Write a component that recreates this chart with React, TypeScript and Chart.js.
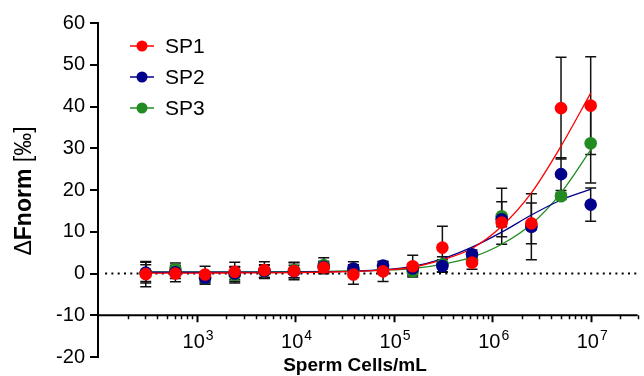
import React, { useEffect, useRef } from "react";
import { Chart, registerables } from "chart.js";

Chart.register(...registerables);

// ---- data ----
const concentrations = [305.2, 610.4, 1220.7, 2441.4, 4882.8, 9765.6, 19531, 39063, 78125, 156250, 312500, 625000, 1250000, 2500000, 5000000, 10000000];
const seriesNames = ["SP1", "SP2", "SP3"];
const seriesColors = ["#ff0000", "#00008b", "#228b22"];

const sp1Values = [-0.15, 0.0, -0.25, 0.4, 0.8, 0.6, 1.45, -0.25, 0.5, 1.75, 6.2, 2.6, 12.2, 12.0, 39.6, 40.2];
const sp1Errors = [3.0, 2.0, 2.0, 2.3, 2.0, 2.1, 1.5, 2.3, 2.4, 2.6, 5.1, 1.6, 1.0, 4.9, 12.2, 11.7];
const sp2Values = [0.2, 0.3, -1.0, 0.0, 0.6, 0.5, 1.6, 1.2, 1.9, 1.2, 1.8, 4.6, 13.0, 11.2, 23.8, 16.5];
const sp2Errors = [2.5, 1.5, 1.0, 1.5, 1.5, 1.5, 1.2, 1.6, 1.0, 1.2, 1.5, 1.0, 4.2, 7.9, 3.9, 4.0];
const sp3Values = [0.1, 1.0, -1.1, -0.3, 0.5, 0.8, 2.0, 0.6, 1.0, 0.55, 2.2, 3.2, 13.7, 11.4, 18.5, 31.2];
const sp3Errors = [2.0, 1.5, 1.5, 2.0, 1.5, 1.8, 1.75, 1.5, 1.0, 1.0, 1.8, 0.5, 6.7, 1.0, 0.8, 9.5];

const sp1Fit = [0.1, 0.1, 0.1, 0.15, 0.15, 0.2, 0.3, 0.5, 0.8, 1.5, 3.3, 6.0, 11.3, 19.3, 30.5, 43.2];
const sp2Fit = [0.3, 0.3, 0.3, 0.3, 0.3, 0.35, 0.4, 0.55, 0.9, 1.7, 3.5, 6.3, 9.9, 14.0, 17.6, 20.2];
const sp3Fit = [0.4, 0.4, 0.4, 0.4, 0.4, 0.45, 0.5, 0.6, 0.8, 1.2, 2.2, 3.9, 7.0, 11.8, 19.3, 29.6];

const xMin = 100;
const xMax = 3e7;
const xTickExponents = [3, 4, 5, 6, 7];
const xMinorMultipliers = [1, 2, 3, 4, 5, 6, 7, 8, 9];
const yMin = -20;
const yMax = 60;
const yStep = 10;
const xAxisAt = -10;
const zeroLineX = [118, 3e7];
const zeroLineY = [0, 0];

const xTitle = "Sperm Cells/mL";
const yTitleDelta = "\u0394";
const yTitleBold = "Fnorm";
const yTitleRegular = " [\u2030]";

const FONT = "'Liberation Sans', Arial, Helvetica, sans-serif";

const values = [sp1Values, sp2Values, sp3Values];
const errors = [sp1Errors, sp2Errors, sp3Errors];
const fits = [sp1Fit, sp2Fit, sp3Fit];

const errorBarPlugin = {
  id: "errorBars",
  beforeDatasetsDraw(chart: any) {
    const { ctx } = chart;
    const ys = chart.scales.y;
    ctx.save();
    ctx.strokeStyle = "#111";
    ctx.lineWidth = 1.5;
    chart.data.datasets.forEach((ds: any, di: number) => {
      if (!ds.errors) return;
      const meta = chart.getDatasetMeta(di);
      meta.data.forEach((pt: any, i: number) => {
        const v = ds.data[i].y;
        const e = ds.errors[i];
        const x = pt.x;
        const yt = ys.getPixelForValue(v + e);
        const yb = ys.getPixelForValue(v - e);
        ctx.beginPath();
        ctx.moveTo(x, yt);
        ctx.lineTo(x, yb);
        ctx.moveTo(x - 5.5, yt);
        ctx.lineTo(x + 5.5, yt);
        ctx.moveTo(x - 5.5, yb);
        ctx.lineTo(x + 5.5, yb);
        ctx.stroke();
      });
    });
    ctx.restore();
  },
};

const axesPlugin = {
  id: "customAxes",
  afterDraw(chart: any) {
    const { ctx, chartArea } = chart;
    const xs = chart.scales.x;
    const ys = chart.scales.y;
    const y0 = ys.getPixelForValue(xAxisAt);
    ctx.save();
    // x axis line
    ctx.strokeStyle = "#000";
    ctx.lineWidth = 2;
    ctx.beginPath();
    ctx.moveTo(chartArea.left - 1, y0);
    ctx.lineTo(chartArea.right, y0);
    ctx.stroke();
    // ticks
    for (let e = 2; e <= 7; e++) {
      for (const m of xMinorMultipliers) {
        const v = m * Math.pow(10, e);
        if (v <= xMin || v > xMax) continue;
        const x = Math.round(xs.getPixelForValue(v)) + 0.5;
        const len = m === 1 ? 7 : 4;
        ctx.lineWidth = m === 1 ? 2 : 1.5;
        ctx.beginPath();
        ctx.moveTo(x, y0);
        ctx.lineTo(x, y0 + len);
        ctx.stroke();
      }
    }
    // labels
    ctx.fillStyle = "#000";
    ctx.textBaseline = "alphabetic";
    for (const e of xTickExponents) {
      const x = xs.getPixelForValue(Math.pow(10, e));
      const base = "10";
      const sup = String(e);
      ctx.font = `20px ${FONT}`;
      const wb = ctx.measureText(base).width;
      ctx.font = `14px ${FONT}`;
      const ws = ctx.measureText(sup).width;
      const start = x - (wb + ws) / 2 + 1;
      ctx.font = `20px ${FONT}`;
      ctx.textAlign = "left";
      ctx.fillText(base, start, y0 + 33);
      ctx.font = `14px ${FONT}`;
      ctx.fillText(sup, start + wb + 1, y0 + 25);
    }
    // x title
    ctx.font = `bold 19px ${FONT}`;
    ctx.textAlign = "center";
    ctx.textBaseline = "middle";
    ctx.fillText(xTitle, 355, 366);
    // y title
    ctx.translate(25, 191);
    ctx.rotate(-Math.PI / 2);
    const reg = `23px ${FONT}`;
    const bold = `bold 23px ${FONT}`;
    ctx.font = reg;
    const w0 = ctx.measureText(yTitleDelta).width;
    const w2 = ctx.measureText(yTitleRegular).width;
    ctx.font = bold;
    const w1 = ctx.measureText(yTitleBold).width;
    const sx = -(w0 + w1 + w2) / 2;
    ctx.textAlign = "left";
    ctx.font = reg;
    ctx.fillText(yTitleDelta, sx, 0);
    ctx.font = bold;
    ctx.fillText(yTitleBold, sx + w0, 0);
    ctx.font = reg;
    ctx.fillText(yTitleRegular, sx + w0 + w1, 0);
    ctx.restore();

    // legend
    ctx.save();
    const rows = [46, 77, 108];
    seriesNames.forEach((name, i) => {
      const ry = rows[i];
      ctx.strokeStyle = seriesColors[i];
      ctx.lineWidth = 1.5;
      ctx.beginPath();
      ctx.moveTo(130, ry);
      ctx.lineTo(154, ry);
      ctx.stroke();
      ctx.fillStyle = seriesColors[i];
      ctx.beginPath();
      ctx.arc(142, ry, 5.5, 0, Math.PI * 2);
      ctx.fill();
      ctx.fillStyle = "#000";
      ctx.font = `21px ${FONT}`;
      ctx.textAlign = "left";
      ctx.textBaseline = "middle";
      ctx.fillText(name, 165, ry + 1);
    });
    ctx.restore();
  },
};

export default function App() {
  const canvasRef = useRef<HTMLCanvasElement | null>(null);

  useEffect(() => {
    if (!canvasRef.current) return;
    const pointSets = seriesNames.map((name, si) => ({
      label: name,
      data: concentrations.map((c, i) => ({ x: c, y: values[si][i] })),
      errors: errors[si],
      showLine: false,
      pointRadius: 6.3,
      pointHoverRadius: 6.3,
      pointBorderWidth: 0,
      pointBackgroundColor: seriesColors[si],
      borderColor: seriesColors[si],
      backgroundColor: seriesColors[si],
      order: si,
    }));
    const fitSets = seriesNames.map((name, si) => ({
      label: name + " fit",
      data: concentrations.map((c, i) => ({ x: c, y: fits[si][i] })),
      showLine: true,
      pointRadius: 0,
      borderWidth: 1.3,
      borderColor: seriesColors[si],
      cubicInterpolationMode: "monotone",
      fill: false,
      order: 10 + si,
    }));
    const zeroSet = {
      label: "zero",
      data: zeroLineX.map((x, i) => ({ x, y: zeroLineY[i] })),
      showLine: true,
      pointRadius: 0,
      borderWidth: 2,
      borderColor: "#000",
      borderDash: [2, 4.3],
      fill: false,
      order: 20,
    };
    const chart = new Chart(canvasRef.current, {
      type: "line",
      data: { datasets: [...pointSets, ...fitSets, zeroSet] as any },
      plugins: [errorBarPlugin, axesPlugin],
      options: {
        animation: false,
        responsive: true,
        maintainAspectRatio: false,
        layout: { padding: { top: 23, bottom: 19, left: 0, right: 1 } },
        plugins: { legend: { display: false }, tooltip: { enabled: false } },
        scales: {
          x: { type: "logarithmic", min: xMin, max: xMax, display: false },
          y: {
            type: "linear",
            min: yMin,
            max: yMax,
            ticks: { stepSize: yStep, color: "#000", font: { family: FONT, size: 20 }, padding: 5 },
            grid: { drawOnChartArea: false, drawTicks: true, tickLength: 8, color: "#000", lineWidth: 2 },
            border: { display: true, color: "#000", width: 2 },
            afterFit: (s: any) => {
              s.width = 98;
            },
          },
        },
      } as any,
    });
    return () => chart.destroy();
  }, []);

  return (
    <div style={{ position: "fixed", left: 0, top: 0, width: 644, height: 376, background: "#fff" }}>
      <canvas ref={canvasRef} />
    </div>
  );
}
